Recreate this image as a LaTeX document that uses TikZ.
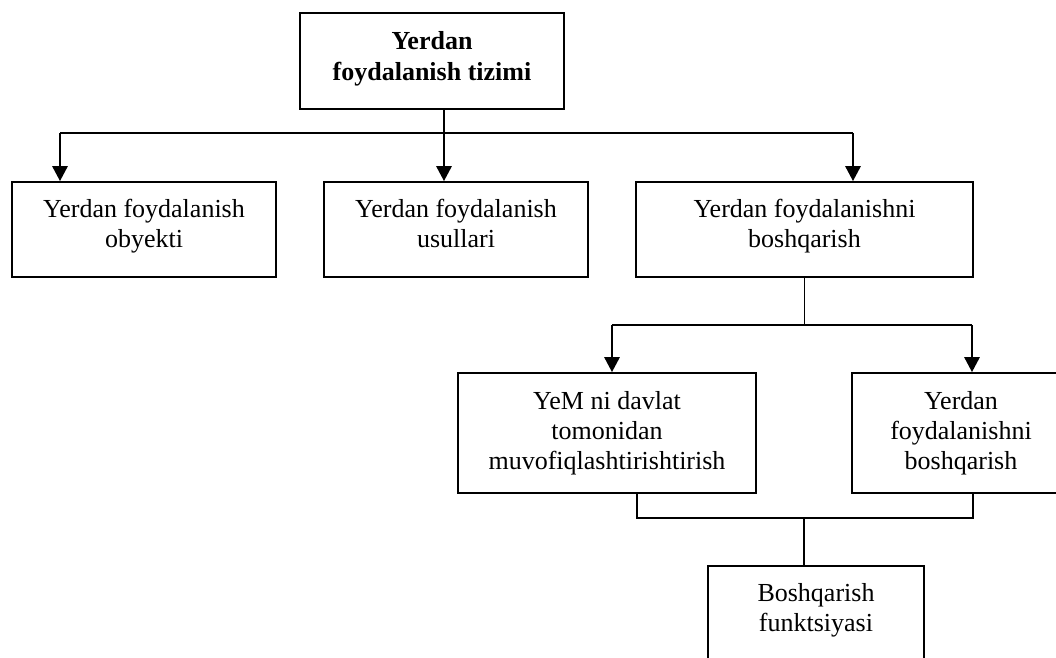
\documentclass[tikz,border=0pt]{standalone}
\usepackage{fontspec}
\setmainfont{Liberation Serif}
\usetikzlibrary{arrows.meta}
\newcommand{\lowpad}[1]{\rule[-#1]{0pt}{#1}}
\begin{document}
\begin{tikzpicture}[x=1pt,y=-1pt,
  box/.style={draw,line width=1.7pt,rectangle,align=center,inner sep=0pt,
    font=\fontsize{26}{30}\selectfont},
  ln/.style={line width=1.7pt},
  arr/.style={line width=2.8pt,-{Triangle[length=15pt,width=15pt]}}]
\useasboundingbox (0,0) rectangle (1056,657);
\fill[white] (0,0) rectangle (1056,657);
\clip (0,0) rectangle (1056,657);
% boxes
\node[box,minimum width=264pt,minimum height=96pt,font=\fontsize{26}{31}\selectfont\bfseries] (top) at (432,61) {\strut Yerdan\\foydalanish tizimi\strut\lowpad{14.7pt}};
\node[box,minimum width=264pt,minimum height=95pt] (b1) at (144,229.5) {\strut Yerdan foydalanish\\obyekti\strut\lowpad{16pt}};
\node[box,minimum width=264pt,minimum height=95pt] (b2) at (456,229.5) {\strut Yerdan foydalanish\\usullari\strut\lowpad{16pt}};
\node[box,minimum width=337pt,minimum height=95pt] (b3) at (804.5,229.5) {\strut Yerdan foydalanishni\\boshqarish\strut\lowpad{16pt}};
\node[box,minimum width=298pt,minimum height=120pt] (b4) at (607,433) {\strut YeM ni davlat\\tomonidan\\muvofiqlashtirishtirish\strut};
\node[box,minimum width=218pt,minimum height=120pt] (b5) at (961,433) {\strut Yerdan\\foydalanishni\\boshqarish\strut};
\node[box,minimum width=216pt,minimum height=96pt] (b6) at (816,614) {\strut Boshqarish\\funktsiyasi\strut\lowpad{17pt}};
% junctions
\coordinate (j1) at (444,133);
\coordinate (j2) at (804.5,325);
\coordinate (j3) at (804,518);
% level 1
\draw[ln] ([xshift=-84pt]b1.north |- j1) -- ([xshift=48.5pt]b3.north |- j1);
\draw[arr] ([xshift=12pt]top.south) -- ([xshift=-12pt]b2.north);
\draw[arr] ([xshift=-84pt]b1.north |- j1) -- ([xshift=-84pt]b1.north);
\draw[arr] ([xshift=48.5pt]b3.north |- j1) -- ([xshift=48.5pt]b3.north);
% level 2
\draw[ln] (b3.south) -- (j2);
\draw[ln] ([xshift=5pt]b4.north |- j2) -- ([xshift=11pt]b5.north |- j2);
\draw[arr] ([xshift=5pt]b4.north |- j2) -- ([xshift=5pt]b4.north);
\draw[arr] ([xshift=11pt]b5.north |- j2) -- ([xshift=11pt]b5.north);
% level 3
\draw[ln] ([xshift=30pt]b4.south) |- ([xshift=12pt]b5.south |- j3) -- ([xshift=12pt]b5.south);
\draw[ln] (j3) -- ([xshift=-12pt]b6.north);
\end{tikzpicture}
\end{document}
